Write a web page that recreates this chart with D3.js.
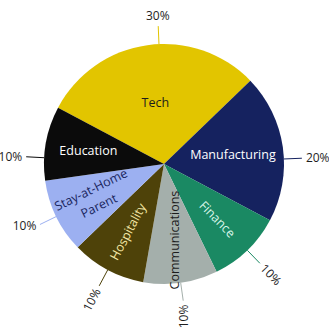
<!DOCTYPE html>
<html>
<head>
<meta charset="utf-8">
<script src="https://cdn.jsdelivr.net/npm/d3@7"></script>
<style>
  html, body { margin: 0; padding: 0; background: #fff; }
  svg { display: block; }
  text { font-family: 'Open Sans', sans-serif; }
</style>
</head>
<body>
<div id="chart"></div>
<script>
  // data, clockwise from the tech slice
  var categories = ['Tech', 'Manufacturing', 'Finance', 'Communications', 'Hospitality', 'Stay-at-Home\nParent', 'Education'];
  var shares = [30, 20, 10, 10, 10, 10, 10];
  var sliceColors = ['#e2c500', '#15225f', '#1a8963', '#a4afab', '#4e4209', '#9cb0f1', '#0b0b0b'];
  var labelColors = ['#1c1c1c', '#ffffff', '#d9f6e9', '#1c1c1c', '#f3e7a6', '#1a2660', '#ffffff'];

  var width = 329, height = 329;
  var cx = 164, cy = 164, R = 120;
  var toRad = Math.PI / 180;

  var data = categories.map(function(c, i){ return {name: c, value: shares[i]}; });

  var color = d3.scaleOrdinal().domain(categories).range(sliceColors);
  var textColor = d3.scaleOrdinal().domain(categories).range(labelColors);

  var svg = d3.select('#chart')
    .append('svg')
    .attr('width', width)
    .attr('height', height);

  var g = svg.append('g')
    .attr('transform', 'translate(' + cx + ',' + cy + ')');

  var total = d3.sum(shares);
  var start = -62 * toRad;
  var pie = d3.pie()
    .sort(null)
    .value(function(d){ return d.value; })
    .startAngle(start)
    .endAngle(start + 2 * Math.PI);

  var arc = d3.arc().innerRadius(0).outerRadius(R);
  var arcs = pie(data);

  g.selectAll('.slice')
    .data(arcs)
    .enter()
    .append('path')
    .attr('class', 'slice')
    .attr('d', arc)
    .attr('fill', function(d){ return color(d.data.name); });

  function mid(d){ return (d.startAngle + d.endAngle) / 2; }
  function norm(a){ a = a % (2 * Math.PI); return a < 0 ? a + 2 * Math.PI : a; }
  function pt(a, r){ return [r * Math.sin(a), -r * Math.cos(a)]; }
  function deg(a){ return norm(a) / toRad; }

  // text along the radius, turned so it never reads downwards
  function radialRot(a){
    var rot = deg(a) - 90, flip = false;
    if(rot > 75){ rot -= 180; flip = true; }
    if(flip && rot < -90) rot = Math.min(-90, rot + 8);
    return {rot: rot, flip: flip};
  }

  // ============== Inside labels ==============
  var inner = g.selectAll('.inner')
    .data(arcs)
    .enter()
    .append('text')
    .attr('class', 'inner')
    .attr('text-anchor', 'middle')
    .attr('font-size', 12.5)
    .attr('fill', function(d){ return textColor(d.data.name); })
    .attr('transform', function(d){
      var a = mid(d), frac = d.data.value / total;
      var p = pt(a, R * (0.70 - 0.6 * frac));
      var m = deg(a), rot = 0;
      if(m > 100 && m < 260) rot = radialRot(a).rot;
      return 'translate(' + p[0] + ',' + p[1] + ') rotate(' + rot + ')';
    });

  inner.each(function(d){
    var lines = d.data.name.split('\n');
    var t = d3.select(this);
    lines.forEach(function(l, i){
      t.append('tspan')
        .attr('x', 0)
        .attr('y', (i - (lines.length - 1) / 2) * 18)
        .attr('dy', '0.35em')
        .text(l);
    });
  });

  // ============== Outside labels ==============
  var lineLen = 18, gap = 4;

  function rotated(d){
    var m = deg(mid(d));
    return m > 130 && m < 230;
  }
  function outerAngle(d){
    var a = norm(mid(d));
    var q = Math.round(a / (Math.PI / 2)) * (Math.PI / 2);
    if(!rotated(d) && Math.abs(a - q) < 12 * toRad) a = a + (q - a) * 0.7;
    return a;
  }

  g.selectAll('.leader')
    .data(arcs)
    .enter()
    .append('line')
    .attr('class', 'leader')
    .attr('x1', function(d){ return pt(outerAngle(d), R)[0]; })
    .attr('y1', function(d){ return pt(outerAngle(d), R)[1]; })
    .attr('x2', function(d){ return pt(outerAngle(d), R + lineLen)[0]; })
    .attr('y2', function(d){ return pt(outerAngle(d), R + lineLen)[1]; })
    .attr('stroke', function(d){ return color(d.data.name); })
    .attr('stroke-width', 1);

  g.selectAll('.pct')
    .data(arcs)
    .enter()
    .append('text')
    .attr('class', 'pct')
    .attr('font-size', 12)
    .attr('fill', '#1e1e1e')
    .attr('dy', '0.35em')
    .text(function(d){ return d.data.value + '%'; })
    .each(function(d){
      var a = outerAngle(d), t = d3.select(this);
      var s = Math.sin(a), p;
      if(rotated(d)){
        var r = radialRot(a);
        p = pt(a, R + lineLen + gap);
        t.attr('text-anchor', r.flip ? 'end' : 'start')
          .attr('transform', 'translate(' + p[0] + ',' + p[1] + ') rotate(' + r.rot + ')');
      } else if(Math.abs(s) > 0.3){
        p = pt(a, R + lineLen + gap);
        t.attr('text-anchor', s > 0 ? 'start' : 'end')
          .attr('transform', 'translate(' + p[0] + ',' + p[1] + ')');
      } else {
        p = pt(a, R + lineLen + gap + 6);
        t.attr('text-anchor', 'middle')
          .attr('transform', 'translate(' + p[0] + ',' + p[1] + ')');
      }
    });
</script>
</body>
</html>
